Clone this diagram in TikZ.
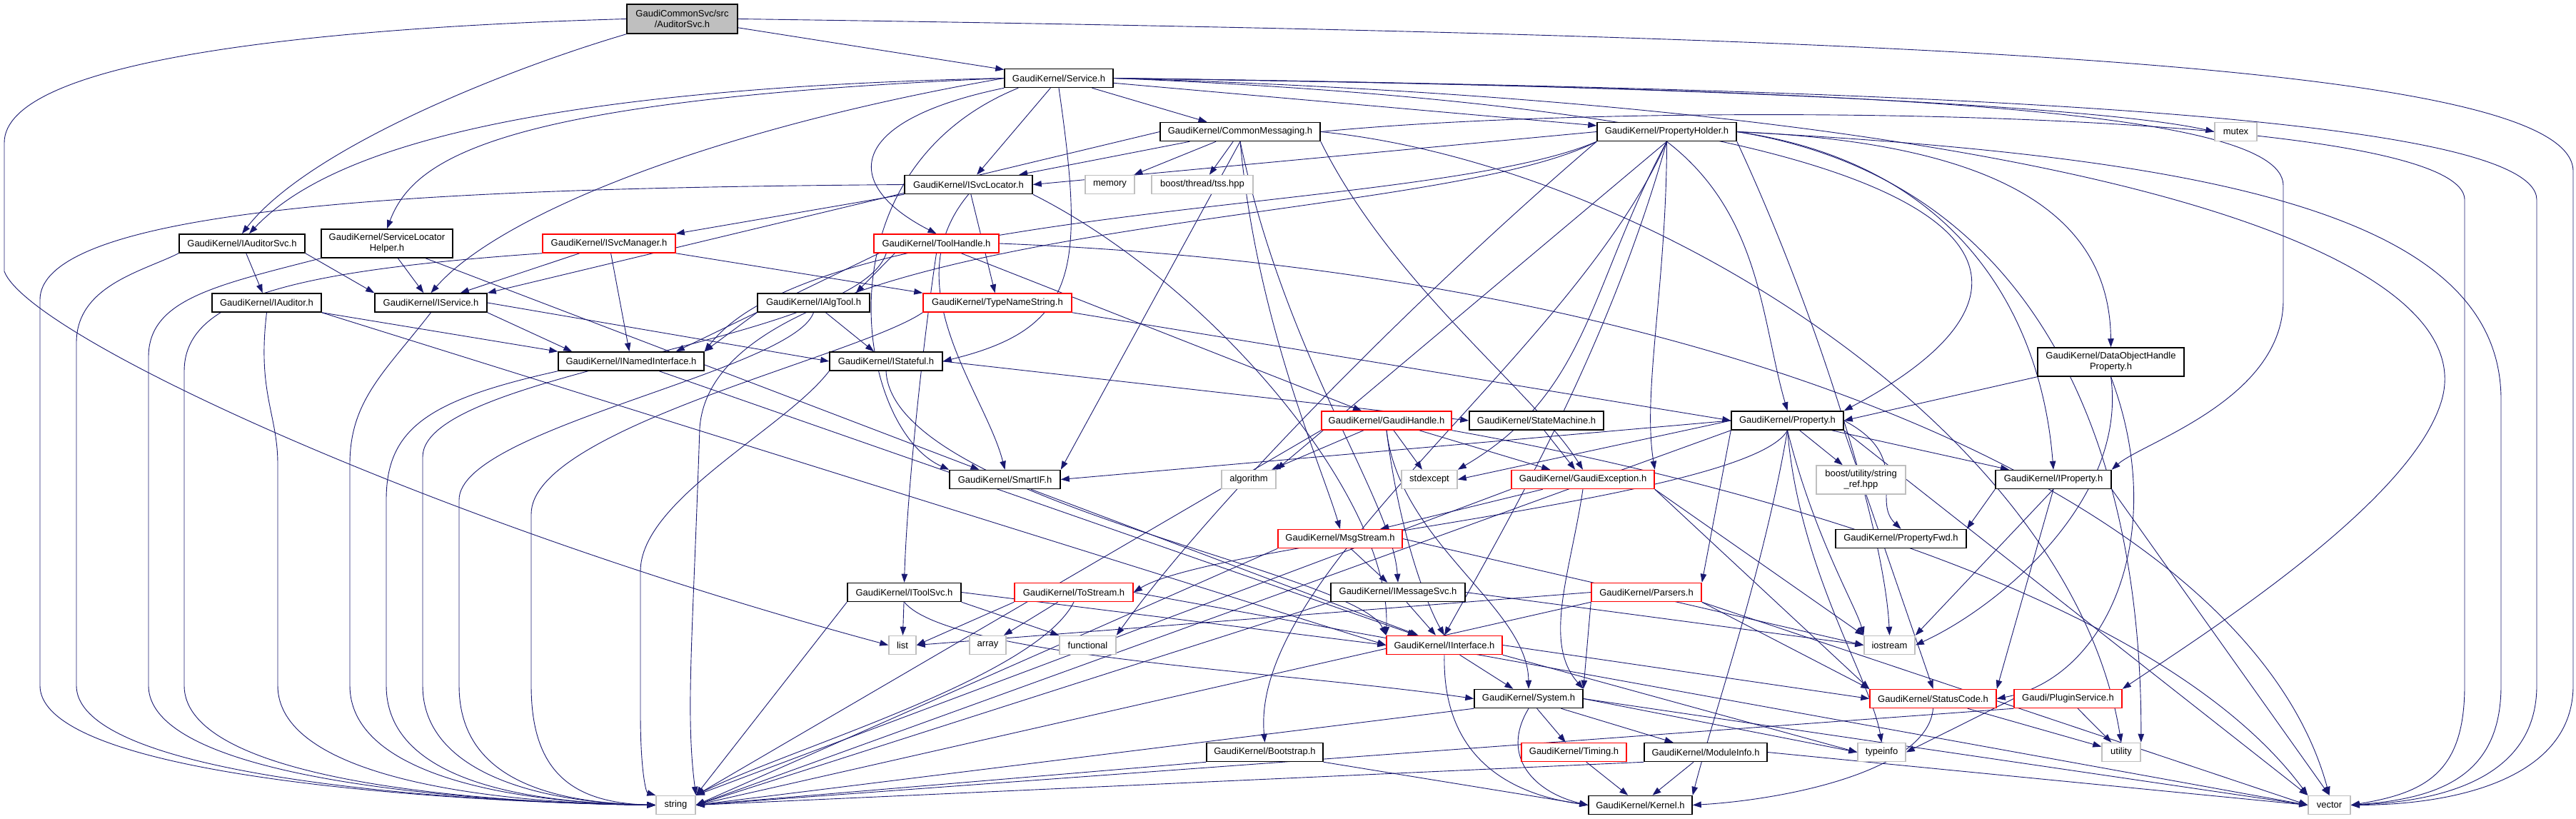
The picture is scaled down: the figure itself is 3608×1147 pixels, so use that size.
\documentclass[tikz,border=0pt]{standalone}
\usepackage{fontspec}
\newfontfamily\gkfam{Liberation Sans}
\usetikzlibrary{arrows.meta}
\definecolor{edgec}{HTML}{191970}
\definecolor{extc}{HTML}{BFBFBF}
\pgfdeclarelayer{bg}
\pgfsetlayers{bg,main}
\begin{document}
\begin{tikzpicture}[x=1pt,y=1pt,
 nb/.style={draw=black,line width=1.5pt,fill=white,rectangle,inner sep=1pt,minimum height=26pt,font=\gkfam\fontsize{13}{15}\selectfont,align=center},
 nr/.style={nb,draw=red},
 ng/.style={nb,draw=extc},
 e/.style={draw=edgec,line width=0.9pt,-{Triangle[length=12pt,width=8.5pt]}}]
\useasboundingbox (0,0) rectangle (3608,-1147);
\node[nb,fill=extc,minimum width=155,minimum height=41] (root) at (955.5,-26.5) {GaudiCommonSvc/src\\/AuditorSvc.h};
\node[nb,minimum width=152] (svc) at (1483,-109.5) {GaudiKernel/Service.h};
\node[nb,minimum width=224] (cm) at (1737,-184.5) {GaudiKernel/CommonMessaging.h};
\node[nb,minimum width=195] (ph) at (2334.5,-184.5) {GaudiKernel/PropertyHolder.h};
\node[ng,minimum width=59] (mutex) at (3131.5,-184.5) {mutex};
\node[nb,minimum width=179] (isl) at (1356.5,-258.5) {GaudiKernel/ISvcLocator.h};
\node[ng,minimum width=69] (memory) at (1554.5,-258.5) {memory};
\node[ng,minimum width=142] (tss) at (1684,-258.5) {boost/thread/tss.hpp};
\node[nb,minimum width=176] (ias) at (339,-341) {GaudiKernel/IAuditorSvc.h};
\node[nb,minimum width=184,minimum height=40] (slh) at (542,-341) {GaudiKernel/ServiceLocator\\Helper.h};
\node[nr,minimum width=186] (ism) at (853,-341) {GaudiKernel/ISvcManager.h};
\node[nr,minimum width=175] (th) at (1311.5,-341) {GaudiKernel/ToolHandle.h};
\node[nb,minimum width=153] (iau) at (373.5,-424) {GaudiKernel/IAuditor.h};
\node[nb,minimum width=157] (isv) at (603.5,-424) {GaudiKernel/IService.h};
\node[nb,minimum width=204] (ini) at (884,-506) {GaudiKernel/INamedInterface.h};
\node[nb,minimum width=157] (iat) at (1139.5,-424) {GaudiKernel/IAlgTool.h};
\node[nr,minimum width=208] (tns) at (1397,-424) {GaudiKernel/TypeNameString.h};
\node[nb,minimum width=158] (ist) at (1241,-506) {GaudiKernel/IStateful.h};
\node[nb,minimum width=155] (sif) at (1407.5,-671.5) {GaudiKernel/SmartIF.h};
\node[ng,minimum width=76] (alg) at (1749,-671.5) {algorithm};
\node[nr,minimum width=182] (gh) at (1942,-589) {GaudiKernel/GaudiHandle.h};
\node[nb,minimum width=188] (sm) at (2152,-589) {GaudiKernel/StateMachine.h};
\node[nb,minimum width=157] (prop) at (2503.5,-589) {GaudiKernel/Property.h};
\node[ng,minimum width=78] (stdx) at (2002,-671.5) {stdexcept};
\node[nr,minimum width=200] (gex) at (2217,-671.5) {GaudiKernel/GaudiException.h};
\node[ng,minimum width=125,minimum height=40] (sref) at (2606.5,-672) {boost/utility/string\\\_ref.hpp};
\node[nr,minimum width=174] (msg) at (1877,-754.5) {GaudiKernel/MsgStream.h};
\node[nb,minimum width=183] (pfwd) at (2662.5,-754.5) {GaudiKernel/PropertyFwd.h};
\node[nb,minimum width=205,minimum height=40] (dohp) at (2956.5,-507) {GaudiKernel/DataObjectHandle\\Property.h};
\node[nb,minimum width=162] (ipr) at (2876,-671.5) {GaudiKernel/IProperty.h};
\node[nb,minimum width=159] (its) at (1266.5,-829.5) {GaudiKernel/IToolSvc.h};
\node[nr,minimum width=166] (tos) at (1504,-829.5) {GaudiKernel/ToStream.h};
\node[ng,minimum width=38] (list) at (1264,-903.5) {list};
\node[ng,minimum width=51] (array) at (1383.5,-903.5) {array};
\node[ng,minimum width=79] (func) at (1523.5,-903.5) {functional};
\node[nb,minimum width=188] (ims) at (1958,-829.5) {GaudiKernel/IMessageSvc.h};
\node[nr,minimum width=154] (par) at (2306,-829.5) {GaudiKernel/Parsers.h};
\node[nr,minimum width=162] (iif) at (2023,-903.5) {GaudiKernel/IInterface.h};
\node[ng,minimum width=71] (iost) at (2646.5,-903.5) {iostream};
\node[nb,minimum width=152] (sys) at (2141,-978.5) {GaudiKernel/System.h};
\node[nr,minimum width=177] (sc) at (2707.5,-978.5) {GaudiKernel/StatusCode.h};
\node[nr,minimum width=151] (plug) at (2896.5,-978.5) {Gaudi/PluginService.h};
\node[nb,minimum width=163] (boot) at (1771.5,-1053.5) {GaudiKernel/Bootstrap.h};
\node[nr,minimum width=147] (tim) at (2204.5,-1053.5) {GaudiKernel/Timing.h};
\node[nb,minimum width=172] (mod) at (2389,-1053.5) {GaudiKernel/ModuleInfo.h};
\node[ng,minimum width=67] (tinfo) at (2635.5,-1053.5) {typeinfo};
\node[ng,minimum width=54] (util) at (2971,-1053.5) {utility};
\node[ng,minimum width=55] (str) at (946.5,-1127.5) {string};
\node[nb,minimum width=145] (kern) at (2297.5,-1127.5) {GaudiKernel/Kernel.h};
\node[ng,minimum width=59] (vec) at (3262.5,-1127.5) {vector};
\begin{pgfonlayer}{bg}
% root
\draw[e] (root) -- (svc);
\draw[e] (root.south west) .. controls (700,-100) and (430,-210) .. (ias.north);
\draw[e] (root.west) .. controls (400,-40) and (6,-90) .. (6,-200) -- (6,-380) .. controls (40,-470) and (600,-730) .. (list.west);
\draw[e] (root.east) .. controls (2700,-50) and (3604,-90) .. (3604,-240) -- (3604,-960) .. controls (3604,-1090) and (3440,-1127) .. (vec.east);
% svc
\draw[e] (svc.west) .. controls (700,-125) and (450,-220) .. ([xshift=10pt]ias.north);
\draw[e] (svc.west) .. controls (700,-140) and (580,-220) .. (slh.north);
\draw[e] (svc) -- (isl);
\draw[e] (svc) -- (cm);
\draw[e] (svc) -- (ph);
\draw[e] (svc.east) .. controls (2400,-120) and (2950,-150) .. (mutex.west);
\draw[e] (svc.south west) .. controls (1180,-170) and (1180,-260) .. (th.north);
\draw[e] (svc.west) .. controls (1000,-180) and (700,-300) .. (isv.north);
\draw[e] (svc.south) .. controls (1520,-380) and (1510,-460) .. (ist.east);
\draw[e] ([xshift=20pt]svc.south west) .. controls (1140,-240) and (1200,-600) .. (sif.north west);
\draw[e] (svc.east) .. controls (2800,-160) and (2950,-380) .. (prop.north east);
\draw[e] (svc.east) .. controls (2600,-125) and (3198,-150) .. (3198,-260) -- (3198,-420) .. controls (3198,-560) and (3000,-620) .. (ipr.north east);
\draw[e] (svc.east) .. controls (2900,-150) and (3480,-350) .. (3420,-560) .. controls (3380,-700) and (3100,-880) .. (plug.north east);
\draw[e] (svc.east) .. controls (2700,-125) and (3553,-160) .. (3553,-280) -- (3553,-960) .. controls (3553,-1085) and (3430,-1122) .. (vec.east);
% cm
\draw[e] (cm) -- (isl);
\draw[e] (cm) -- (memory);
\draw[e] (cm) -- (tss);
\draw[e] (cm.west) -- (isv.north east);
\draw[e] (cm.south) .. controls (1800,-500) and (1950,-700) .. (ims.north);
\draw[e] (cm.south) .. controls (1760,-450) and (1850,-650) .. (msg.north);
\draw[e] (cm.south) -- (sif.north east);
\draw[e] (cm.south east) .. controls (1950,-400) and (2150,-550) .. (gex.north);
\draw[e] (cm.east) .. controls (2300,-230) and (2900,-600) .. (util.north);
\draw[e] (cm.east) .. controls (2300,-140) and (3452,-150) .. (3452,-280) -- (3452,-960) .. controls (3452,-1080) and (3400,-1110) .. (vec.east);
% ph
\draw[e] (ph.west) -- (isl.east);
\draw[e] (ph.south west) .. controls (2000,-300) and (1150,-280) .. (ini.north east);
\draw[e] (ph.south west) .. controls (2000,-320) and (1000,-300) .. (980,-600) .. controls (970,-900) and (960,-1000) .. (str.north east);
\draw[e] (ph.south) .. controls (2200,-500) and (1750,-800) .. (boot.north);
\draw[e] (ph.south) -- (alg.north east);
\draw[e] (ph.south) .. controls (2226,-400) and (2226,-550) .. (stdx.north east);
\draw[e] (ph.south) .. controls (2334,-400) and (2300,-550) .. (gex.north east);
\draw[e] (ph.south) .. controls (2467,-300) and (2467,-450) .. (prop.north);
\draw[e] (ph.east) .. controls (2800,-200) and (2955,-300) .. (dohp.north);
\draw[e] (ph.east) .. controls (2750,-230) and (2860,-450) .. (ipr.north);
\draw[e] (ph.south east) .. controls (2550,-450) and (2640,-750) .. (iost.north);
\draw[e] (ph.east) .. controls (2900,-260) and (3000,-700) .. (util.north east);
\draw[e] (ph.east) .. controls (3100,-220) and (3503,-300) .. (3503,-560) -- (3503,-960) .. controls (3503,-1085) and (3420,-1118) .. (vec.east);
\draw[e] (ph.south west) .. controls (2000,-400) and (1700,-700) .. (func.north east);
\draw[e] (ph.south) .. controls (2250,-500) and (2100,-750) .. (iif.north);
% isl
\draw[e] (isl.south west) -- (ism.north east);
\draw[e] (isl) -- (tns);
\draw[e] (isl.south) .. controls (1250,-400) and (1380,-550) .. (sif.north);
\draw[e] (isl.south east) .. controls (1700,-400) and (1950,-700) .. (iif.north west);
\draw[e] (isl.west) .. controls (700,-263) and (56,-280) .. (56,-420) -- (56,-960) .. controls (56,-1090) and (650,-1124) .. (str.west);
% ias
\draw[e] (ias) -- (iau);
\draw[e] (ias.south east) -- (isv.north west);
\draw[e] (ias.south west) .. controls (200,-380) and (107,-400) .. (107,-480) -- (107,-960) .. controls (107,-1090) and (650,-1124) .. (str.west);
% slh
\draw[e] (slh) -- (isv);
\draw[e] (slh) -- (sif);
\draw[e] (slh.south west) .. controls (300,-400) and (208,-420) .. (208,-500) -- (208,-960) .. controls (208,-1090) and (650,-1124) .. (str.west);
% ism
\draw[e] (ism) -- (isv);
\draw[e] (ism) -- (ini);
\draw[e] (ism.south east) -- (tns.north west);
\draw[e] (ism.south west) .. controls (400,-380) and (258,-420) .. (258,-520) -- (258,-960) .. controls (258,-1090) and (650,-1124) .. (str.west);
% th
\draw[e] ([xshift=30pt]th.south west) -- ([xshift=-20pt]iat.north east);
\draw[e] (th) -- (gh);
\draw[e] ([xshift=8pt]th.south west) -- ([xshift=-40pt]ini.north east);
\draw[e] (th.south) .. controls (1290,-500) and (1270,-700) .. (its.north);
\draw[e] ([xshift=18pt]th.south west) .. controls (1200,-480) and (592,-520) .. (592,-640) -- (592,-960) .. controls (592,-1080) and (750,-1124) .. (str.west);
\draw[e] (th.east) .. controls (2400,-380) and (3150,-700) .. (vec.north);
% iau
\draw[e] (iau.south east) -- (ini.north west);
\draw[e] (iau.south) .. controls (360,-550) and (389,-580) .. (389,-650) -- (389,-960) .. controls (389,-1080) and (650,-1124) .. (str.west);
\draw[e] (iau.south east) -- (iif.west);
% isv
\draw[e] (isv.south east) -- ([xshift=20pt]ini.north west);
\draw[e] (isv.east) -- (ist.west);
\draw[e] (isv.south) .. controls (540,-520) and (490,-560) .. (490,-650) -- (490,-960) .. controls (490,-1080) and (700,-1124) .. (str.west);
% ini
\draw[e] (ini) -- (iif);
\draw[e] (ini.south west) .. controls (600,-560) and (541,-600) .. (541,-700) -- (541,-960) .. controls (541,-1080) and (700,-1124) .. (str.west);
% iat
\draw[e] (iat.south west) -- (ini.north east);
\draw[e] (iat) -- (ist);
\draw[e] (iat.south) .. controls (1110,-520) and (643,-600) .. (643,-700) -- (643,-960) .. controls (643,-1080) and (750,-1124) .. (str.west);
% tns
\draw[e] (tns.south west) .. controls (1200,-500) and (744,-600) .. (744,-720) -- (744,-960) .. controls (744,-1080) and (800,-1124) .. (str.west);
\draw[e] (tns.south east) -- (prop.west);
% ist
\draw[e] (ist.east) -- (sm.west);
\draw[e] (ist.south) .. controls (1250,-700) and (1900,-800) .. (iif.north west);
\draw[e] (ist.south west) .. controls (1100,-600) and (897,-700) .. (897,-800) -- (897,-1000) .. controls (897,-1080) and (905,-1110) .. (str.north west);
% sif
\draw[e] (sif) -- (iif);
% gh
\draw[e] (gh) -- (alg);
\draw[e] (gh) -- (stdx);
\draw[e] (gh) -- (gex);
\draw[e] (gh.south) .. controls (1960,-750) and (2000,-850) .. (iif.north);
\draw[e] (gh.south) .. controls (1960,-760) and (2140,-850) .. (sys.north);
\draw[e] (gh.south west) -- (str.north east);
\draw[e] (gh.south east) .. controls (2300,-650) and (3000,-800) .. (vec.north west);
% sm
\draw[e] (sm) -- (gex);
% prop
\draw[e] (prop.west) -- (sif.east);
\draw[e] (prop.west) -- (stdx.east);
\draw[e] (prop) -- (ipr);
\draw[e] (prop) -- (sref);
\draw[e] (prop.east) .. controls (2680,-640) and (2620,-700) .. (pfwd.north);
\draw[e] (prop.south) .. controls (2450,-700) and (1700,-760) .. (tos.east);
\draw[e] (prop.south west) -- (par.north east);
\draw[e] (prop.south) .. controls (2540,-750) and (2600,-850) .. (iost.north west);
\draw[e] (prop.south) .. controls (2520,-800) and (2620,-950) .. (tinfo.north);
\draw[e] (prop.south) .. controls (2470,-800) and (2400,-1000) .. (kern.north east);
\draw[e] (prop.south east) -- (vec.north west);
\draw[e] (prop.south west) -- (str.east);
\draw[e] (prop.south east) -- (sc.north);
% gex
\draw[e] (gex) -- (msg);
\draw[e] (gex.south east) -- (iost.north west);
\draw[e] (gex.south) .. controls (2200,-800) and (2160,-900) .. (sys.north east);
\draw[e] (gex.south east) -- (sc.north west);
\draw[e] (gex.south west) -- (str.north east);
% msg
\draw[e] (msg) -- (ims);
\draw[e] (msg.east) -- (iost.west);
\draw[e] (msg.south west) -- (str.east);
% ipr
\draw[e] (ipr.south west) -- (pfwd.north east);
\draw[e] (ipr.south) -- (iost.north east);
\draw[e] (ipr.south) -- (sc.north east);
\draw[e] (ipr.south east) -- (vec.north);
% dohp
\draw[e] (dohp.south west) -- (prop.east);
\draw[e] (dohp.south) .. controls (2980,-700) and (2800,-850) .. (iost.east);
\draw[e] (dohp.south) .. controls (3040,-750) and (2950,-950) .. (sc.east);
% its
\draw[e] (its) -- (list);
\draw[e] (its.south west) -- (str.north east);
\draw[e] (its.south east) -- (func.north west);
\draw[e] (its.east) -- (iif.west);
\draw[e] (its.south) .. controls (1330,-920) and (1800,-940) .. (sys.west);
% tos
\draw[e] (tos.south west) -- (list.east);
\draw[e] (tos) -- (array);
\draw[e] (tos.south) .. controls (1450,-950) and (1100,-1050) .. (str.north east);
\draw[e] (tos.east) -- (vec.west);
% ims
\draw[e] (ims) -- (iif);
\draw[e] (ims.south west) -- (str.east);
\draw[e] (ims.east) -- (iost.west);
% par
\draw[e] (par.west) -- (list.east);
\draw[e] (par.south west) -- (sys.north east);
\draw[e] (par.south east) -- (sc.north west);
\draw[e] (par.south east) -- (vec.west);
\draw[e] (par.south west) -- (str.east);
% iif
\draw[e] (iif) -- (sys);
\draw[e] (iif.south) .. controls (2020,-1050) and (2100,-1110) .. (kern.west);
\draw[e] (iif.east) -- (sc.west);
\draw[e] (iif.south east) -- (tinfo.west);
% sys
\draw[e] (sys) -- (tim);
\draw[e] (sys) -- (mod);
\draw[e] (sys.south) .. controls (2100,-1060) and (2150,-1110) .. (kern.west);
\draw[e] (sys.south west) -- (str.east);
\draw[e] (sys.east) -- (tinfo.west);
\draw[e] (sys.east) -- (vec.west);
% tim mod boot
\draw[e] (tim) -- (kern);
\draw[e] (mod) -- (kern);
\draw[e] (mod.south west) -- (str.east);
\draw[e] (mod.east) -- (vec.west);
\draw[e] (boot.south east) -- (kern.west);
\draw[e] (boot.south west) -- (str.east);
% sc
\draw[e] (sc.south) .. controls (2700,-1080) and (2500,-1120) .. (kern.east);
\draw[e] (sc) -- (util);
% plug
\draw[e] (plug) -- (util);
\draw[e] (plug.west) -- (tinfo.east);
\draw[e] (plug.south west) -- (str.east);
\end{pgfonlayer}
\end{tikzpicture}
\end{document}
